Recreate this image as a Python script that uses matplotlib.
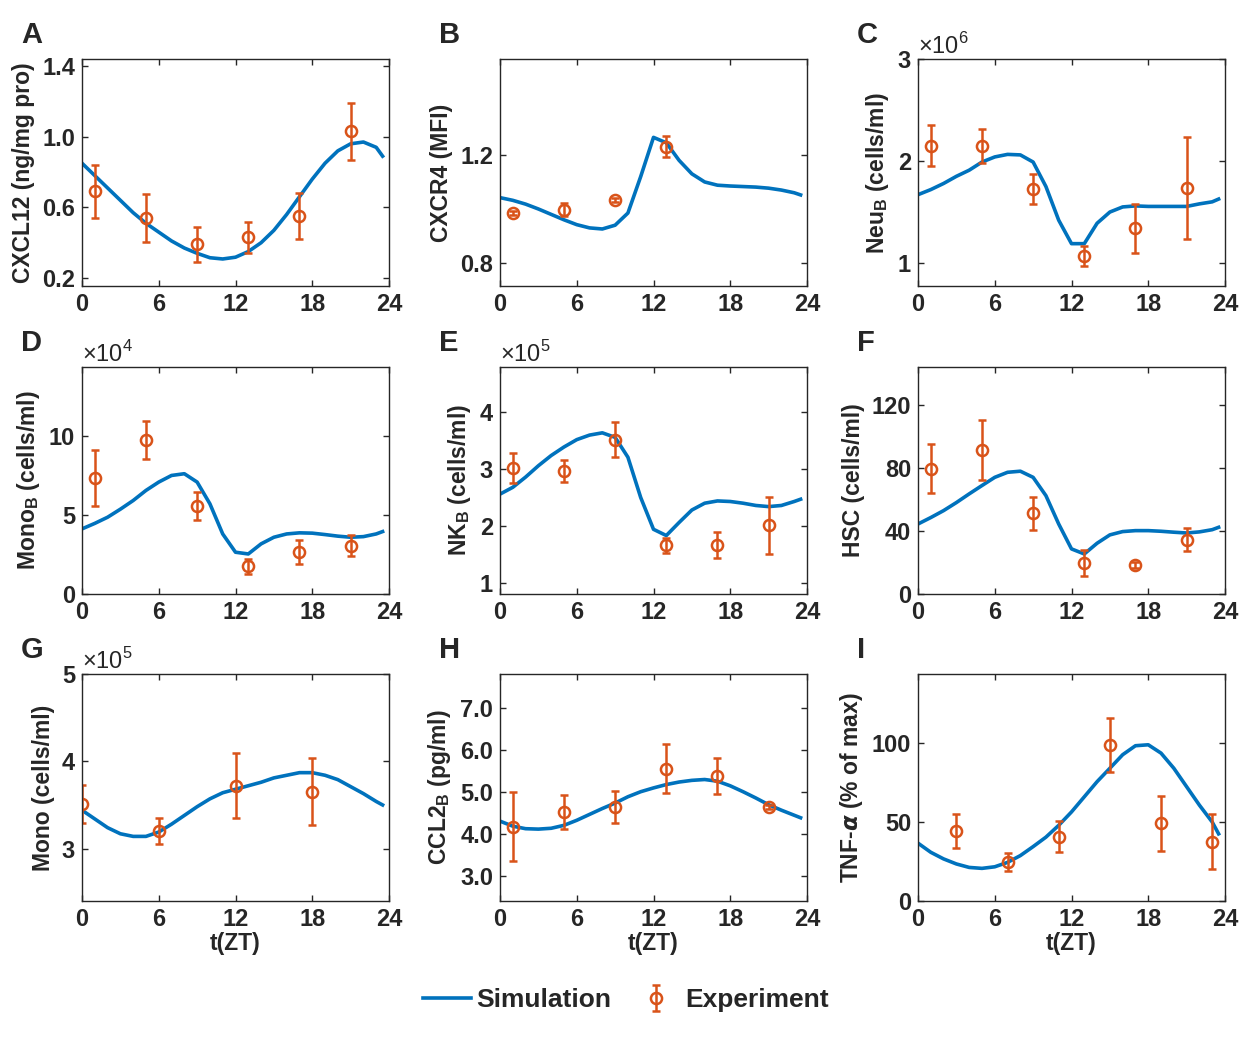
import matplotlib
matplotlib.use('Agg')
import matplotlib.pyplot as plt
from matplotlib.ticker import FormatStrFormatter

plt.rcParams['font.family'] = ['Liberation Sans', 'DejaVu Sans']
plt.rcParams['font.weight'] = 'bold'
plt.rcParams['axes.labelweight'] = 'bold'
plt.rcParams['text.color'] = '#262626'

blue = '#0072BD'
orange = '#D95319'
dark = '#262626'

# simulation time grid (h)
t_sim = [0, 1, 2, 3, 4, 5, 6, 7, 8, 9, 10, 11, 12, 13, 14, 15, 16, 17, 18, 19, 20, 21, 22, 23, 23.5]

# A  CXCL12
a_sim = [0.85, 0.78, 0.71, 0.64, 0.57, 0.51, 0.46, 0.41, 0.37, 0.34, 0.315, 0.308, 0.318, 0.35, 0.40,
         0.47, 0.56, 0.66, 0.76, 0.85, 0.92, 0.96, 0.97, 0.94, 0.89]
a_t = [1, 5, 9, 13, 17, 21]
a_y = [0.69, 0.54, 0.39, 0.43, 0.55, 1.03]
a_err = [0.15, 0.135, 0.10, 0.087, 0.13, 0.16]

# B  CXCR4
b_sim = [1.042, 1.032, 1.018, 1.000, 0.980, 0.960, 0.942, 0.930, 0.926, 0.940, 0.985, 1.12, 1.265, 1.245,
         1.18, 1.13, 1.10, 1.088, 1.085, 1.083, 1.081, 1.077, 1.07, 1.06, 1.052]
b_t = [1, 5, 9, 13]
b_y = [0.984, 0.998, 1.034, 1.231]
b_err = [0.008, 0.023, 0.008, 0.038]

# C  Neu_B (x1e6)
c_sim = [1.67, 1.72, 1.78, 1.85, 1.91, 1.99, 2.04, 2.065, 2.06, 1.99, 1.75, 1.42, 1.19, 1.19, 1.39,
         1.50, 1.55, 1.56, 1.555, 1.555, 1.555, 1.555, 1.58, 1.60, 1.627]
c_t = [1, 5, 9, 13, 17, 21]
c_y = [2.15, 2.147, 1.725, 1.069, 1.34, 1.732]
c_err = [0.20, 0.165, 0.15, 0.10, 0.24, 0.50]

# D  Mono_B (x1e4)
d_sim = [4.13, 4.48, 4.87, 5.38, 5.93, 6.57, 7.10, 7.52, 7.63, 7.10, 5.72, 3.81, 2.65, 2.54, 3.18,
         3.60, 3.81, 3.88, 3.86, 3.77, 3.67, 3.60, 3.64, 3.81, 3.96]
d_t = [1, 5, 9, 13, 17, 21]
d_y = [7.35, 9.77, 5.59, 1.76, 2.65, 3.07]
d_err = [1.78, 1.2, 0.9, 0.48, 0.75, 0.68]

# E  NK_B (x1e5)
e_sim = [2.56, 2.68, 2.86, 3.06, 3.24, 3.39, 3.52, 3.60, 3.64, 3.56, 3.21, 2.50, 1.94, 1.83, 2.06,
         2.28, 2.40, 2.44, 2.43, 2.40, 2.36, 2.34, 2.36, 2.43, 2.47]
e_t = [1, 5, 9, 13, 17, 21]
e_y = [3.02, 2.97, 3.52, 1.66, 1.66, 2.01]
e_err = [0.265, 0.20, 0.31, 0.13, 0.225, 0.50]

# F  HSC
f_sim = [44.4, 48.5, 52.9, 58.0, 63.5, 68.8, 74.0, 77.2, 77.9, 74.0, 62.4, 44.4, 28.6, 25.4, 32.2,
         37.5, 39.6, 40.2, 40.2, 39.8, 39.2, 38.7, 39.4, 40.8, 42.3]
f_t = [1, 5, 9, 13, 17, 21]
f_y = [79.6, 91.4, 51.2, 19.7, 18.6, 34.3]
f_err = [15.4, 19.0, 10.3, 8.0, 1.8, 7.3]

# G  Mono (x1e5)
g_sim = [3.44, 3.34, 3.24, 3.17, 3.14, 3.14, 3.19, 3.28, 3.38, 3.48, 3.57, 3.64, 3.68, 3.72, 3.76,
         3.81, 3.84, 3.87, 3.87, 3.84, 3.79, 3.71, 3.63, 3.54, 3.50]
g_t = [0, 6, 12, 18]
g_y = [3.51, 3.20, 3.72, 3.65]
g_err = [0.22, 0.145, 0.37, 0.385]

# H  CCL2_B
h_sim = [4.30, 4.18, 4.12, 4.11, 4.13, 4.20, 4.32, 4.46, 4.60, 4.73, 4.88, 5.00, 5.09, 5.17, 5.23,
         5.27, 5.29, 5.25, 5.14, 5.00, 4.85, 4.69, 4.56, 4.44, 4.38]
h_t = [1, 5, 9, 13, 17, 21]
h_y = [4.17, 4.51, 4.64, 5.55, 5.37, 4.64]
h_err = [0.82, 0.40, 0.38, 0.58, 0.42, 0.05]

# I  TNF-alpha
i_sim = [36.7, 30.9, 26.7, 23.5, 21.3, 20.7, 21.7, 24.5, 28.8, 34.5, 40.5, 48.0, 56.5, 66.1, 75.7,
         84.2, 92.8, 98.5, 99.1, 93.8, 84.2, 72.5, 60.8, 50.1, 42.6]
i_t = [3, 7, 11, 15, 19, 23]
i_y = [44.6, 24.9, 40.9, 99.1, 49.3, 37.7]
i_err = [10.8, 5.8, 10.0, 17.3, 17.6, 17.4]

panels = [
    ('A', 'CXCL12 (ng/mg pro)', a_sim, a_t, a_y, a_err, (0.155, 1.44), [0.2, 0.6, 1.0, 1.4], '%.1f', None),
    ('B', 'CXCR4 (MFI)', b_sim, b_t, b_y, b_err, (0.715, 1.555), [0.8, 1.2], '%.1f', None),
    ('C', 'Neu$_\\mathregular{B}$ (cells/ml)', c_sim, c_t, c_y, c_err, (0.775, 3.0), [1, 2, 3], '%d', '6'),
    ('D', 'Mono$_\\mathregular{B}$ (cells/ml)', d_sim, d_t, d_y, d_err, (0, 14.4), [0, 5, 10], '%d', '4'),
    ('E', 'NK$_\\mathregular{B}$ (cells/ml)', e_sim, e_t, e_y, e_err, (0.8, 4.8), [1, 2, 3, 4], '%d', '5'),
    ('F', 'HSC (cells/ml)', f_sim, f_t, f_y, f_err, (0, 144), [0, 40, 80, 120], '%d', None),
    ('G', 'Mono (cells/ml)', g_sim, g_t, g_y, g_err, (2.4, 5.0), [3, 4, 5], '%d', '5'),
    ('H', 'CCL2$_\\mathregular{B}$ (pg/ml)', h_sim, h_t, h_y, h_err, (2.4, 7.8), [3, 4, 5, 6, 7], '%.1f', None),
    ('I', 'TNF-$\\alpha$ (% of max)', i_sim, i_t, i_y, i_err, (0, 144), [0, 50, 100], '%d', None),
]

W, H = 1247, 1041
fig = plt.figure(figsize=(W / 100, H / 100), dpi=100)

lefts = [82, 500, 918]
tops = [59, 367, 674]
aw, ah = 307, 227

for k, (letter, ylab, sim, xt, yv, ye, ylim, yt, fmt, expo) in enumerate(panels):
    r, c = divmod(k, 3)
    ax = fig.add_axes([lefts[c] / W, 1 - (tops[r] + ah) / H, aw / W, ah / H])
    ln, = ax.plot(t_sim, sim, color=blue, lw=2.6, label='Simulation')
    eb = ax.errorbar(xt, yv, yerr=ye, fmt='o', color=orange, mfc='none', ms=8, mew=1.8,
                     elinewidth=1.8, capsize=2.8, capthick=1.8, label='Experiment')
    ax.set_xlim(0, 24)
    ax.set_xticks([0, 6, 12, 18, 24])
    ax.set_ylim(*ylim)
    ax.set_yticks(yt)
    ax.yaxis.set_major_formatter(FormatStrFormatter(fmt))
    ax.tick_params(direction='in', top=True, right=True, length=4, width=1,
                   labelsize=17, colors=dark, pad=5)
    for lab in ax.get_xticklabels() + ax.get_yticklabels():
        lab.set_fontweight('bold')
        lab.set_color(dark)
    for s in ax.spines.values():
        s.set_color(dark)
        s.set_linewidth(1.0)
    ax.set_ylabel(ylab, fontsize=16.5, color=dark, labelpad=5)
    if r == 2:
        ax.set_xlabel('t(ZT)', fontsize=16.5, color=dark, labelpad=1)
    if expo:
        ax.text(0, 1.0, '×10$^{\\mathregular{' + expo + '}}$', transform=ax.transAxes,
                ha='left', va='bottom', fontsize=17, fontweight='normal', color=dark)
    fig.text((lefts[c] - 61) / W, 1 - (tops[r] - 24) / H, letter, fontsize=21,
             fontweight='bold', color=dark, ha='left', va='center')
    if k == 0:
        handles = [ln, eb]

fig.legend(handles, ['Simulation', 'Experiment'], loc='center', ncol=2, frameon=False,
           bbox_to_anchor=(0.502, 1 - 1000 / H), fontsize=19, handlelength=1.8,
           columnspacing=0.8, handletextpad=0.2)

fig.savefig('out.png', dpi=100)
